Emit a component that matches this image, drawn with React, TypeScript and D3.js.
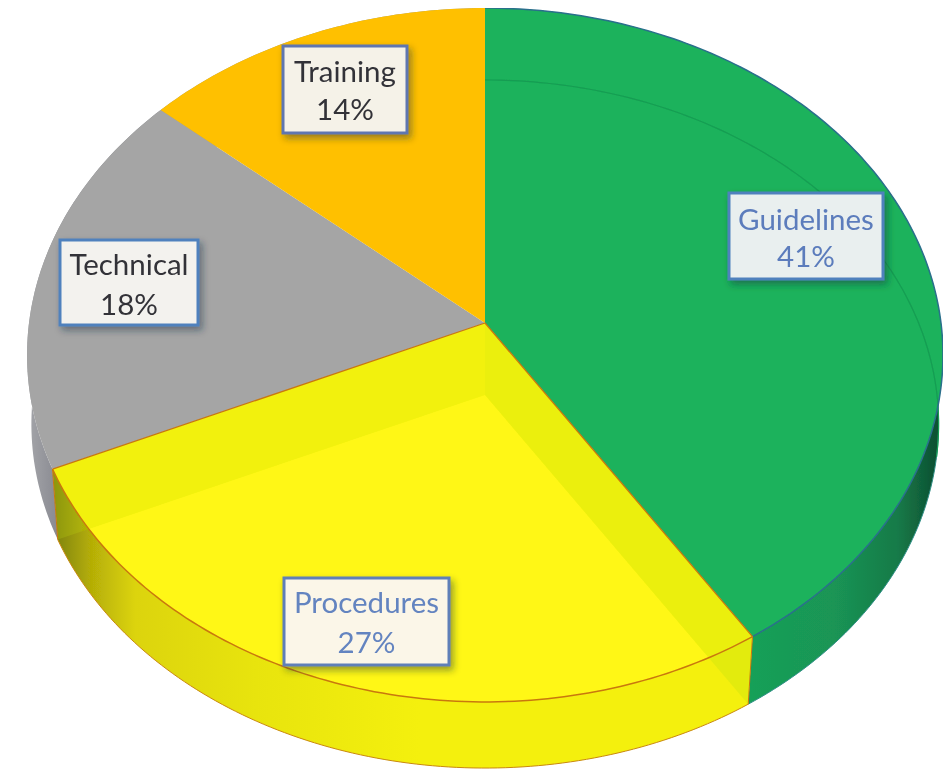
import React from "react";
import * as d3 from "d3";

const categories = ["Guidelines", "Procedures", "Technical", "Training"];
const shares = [40.9, 27.4, 18.1, 13.6];
const faceColors = ["#1bb25b", "#fff714", "#a5a5a5", "#ffc000"];

const W = 951;
const H = 770;
const topFace = { cx: 485, cy: 323, a: 456, b: 344, p: 0.0922 };
const baseFace = { cx: 485, cy: 395, a: 452, b: 341.6, p: 0.0843 };
type Face = typeof topFace;
type Pt = [number, number];

const project = (f: Face, ang: number): Pt => {
  const u = Math.sin(ang);
  const v = Math.cos(ang);
  const d = 1 + f.p * v;
  return [f.cx + (f.a * u) / d, f.cy - (f.b * v) / d];
};
const rim = (f: Face, a0: number, a1: number): Pt[] => {
  const n = Math.max(8, Math.ceil(Math.abs(a1 - a0) * 60));
  return d3.range(n + 1).map((i) => project(f, a0 + ((a1 - a0) * i) / n));
};
const line = d3.line<Pt>();
const closed = (pts: Pt[]) => line(pts) + "Z";

const arcs = d3
  .pie<number>()
  .sort(null)
  .value((d) => d)(shares);

const boxes = [
  { x: 729, y: 193, w: 154, h: 86, t1: 230, t2: 267, fill: "#e9efef", border: "#4f81bd", ink: "#5b7cbc" },
  { x: 284, y: 578, w: 165, h: 87, t1: 613, t2: 653, fill: "#fbf6e8", border: "#5f7fb8", ink: "#6484c0" },
  { x: 60, y: 240, w: 138, h: 85, t1: 275, t2: 315, fill: "#f3f2ee", border: "#4f81bd", ink: "#333338" },
  { x: 283, y: 46, w: 124, h: 87, t1: 82, t2: 120, fill: "#f5f2e8", border: "#5f76b0", ink: "#333338" },
];

const sideFill = ["url(#gGreen)", "url(#gYellow)", "url(#gGrey)", "#999"];
const edge = ["#2a6f8c", "#c9780f", "none", "none"];

export default function App() {
  const center: Pt = [topFace.cx, topFace.cy];
  const baseCenter: Pt = [baseFace.cx, baseFace.cy];
  const yellow = arcs[1];
  const yStart = project(topFace, yellow.startAngle);
  const yEnd = project(topFace, yellow.endAngle);
  const bStart = project(baseFace, yellow.startAngle);
  const bEnd = project(baseFace, yellow.endAngle);

  return (
    <svg
      width={W}
      height={H}
      viewBox={`0 0 ${W} ${H}`}
      style={{ position: "absolute", left: 0, top: 0, background: "#fff", display: "block" }}
    >
      <defs>
        <linearGradient id="gGreen" gradientUnits="userSpaceOnUse" x1="750" x2="935" y1="0" y2="0">
          <stop offset="0" stopColor="#18a058" />
          <stop offset="0.45" stopColor="#1a9555" />
          <stop offset="0.8" stopColor="#167a48" />
          <stop offset="1" stopColor="#0e5233" />
        </linearGradient>
        <linearGradient id="gYellow" gradientUnits="userSpaceOnUse" x1="55" x2="420" y1="0" y2="0">
          <stop offset="0" stopColor="#7f8410" />
          <stop offset="0.1" stopColor="#b5ae06" />
          <stop offset="0.22" stopColor="#dcd40a" />
          <stop offset="0.55" stopColor="#e8e40c" />
          <stop offset="1" stopColor="#f4f010" />
        </linearGradient>
        <linearGradient id="gGrey" gradientUnits="userSpaceOnUse" x1="28" x2="62" y1="0" y2="0">
          <stop offset="0" stopColor="#a4a5a9" />
          <stop offset="1" stopColor="#85868e" />
        </linearGradient>
        <filter id="boxShadow" x="-20%" y="-20%" width="145%" height="145%">
          <feDropShadow dx="3" dy="4" stdDeviation="3.5" floodColor="#1c2a40" floodOpacity="0.45" />
        </filter>
        <filter id="soft" x="0" y="0" width="100%" height="100%">
          <feGaussianBlur stdDeviation="0.5" />
        </filter>
      </defs>

      <g filter="url(#soft)">
        {/* outer walls */}
        {arcs.map((a, i) => {
          const top = rim(topFace, a.startAngle, a.endAngle);
          const base = rim(baseFace, a.startAngle, a.endAngle).reverse();
          return <path key={categories[i]} d={closed([...top, ...base])} fill={sideFill[i]} />;
        })}
        <path d={line(rim(baseFace, arcs[0].startAngle + 1.2, arcs[0].endAngle))!} fill="none" stroke="#2f8f86" strokeWidth={1} />
        <path d={line(rim(baseFace, yellow.startAngle, yellow.endAngle))!} fill="none" stroke="#c9880f" strokeWidth={1} />

        {/* top faces */}
        {arcs.map((a, i) => (
          <path
            key={categories[i]}
            d={closed([center, ...rim(topFace, a.startAngle, a.endAngle)])}
            fill={faceColors[i]}
          />
        ))}

        {/* the floor seen through the green face */}
        <path d={line(rim(baseFace, arcs[0].startAngle, arcs[0].startAngle + 1.75))!} fill="none" stroke="#179c52" strokeWidth={1.2} />

        {/* inner walls of the yellow slice, seen through the top and the rim */}
        <path d={closed([center, baseCenter, bStart, yStart])} fill="#c3e100" fillOpacity={0.33} />
        <path d={closed([center, baseCenter, bEnd, yEnd])} fill="#c3e100" fillOpacity={0.22} />

        {/* edges */}
        <path d={line(rim(topFace, arcs[0].startAngle, arcs[0].endAngle))!} fill="none" stroke={edge[0]} strokeWidth={1.5} />
        <path d={line(rim(topFace, yellow.startAngle, yellow.endAngle))!} fill="none" stroke={edge[1]} strokeWidth={1.5} />
        <path d={line([yStart, center, yEnd])!} fill="none" stroke={edge[1]} strokeWidth={1.3} strokeLinejoin="round" />
        <path d={line([yStart, bStart])!} fill="none" stroke={edge[1]} strokeWidth={1} />
        <path d={line([bEnd, yEnd])!} fill="none" stroke="#c9780f" strokeWidth={1} />

        {/* labels */}
        {boxes.map((b, i) => (
          <g key={categories[i]}>
            <rect
              x={b.x}
              y={b.y}
              width={b.w}
              height={b.h}
              fill={b.fill}
              stroke={b.border}
              strokeWidth={3}
              filter="url(#boxShadow)"
            />
            <text
              x={b.x + b.w / 2}
              y={b.t1}
              textAnchor="middle"
              fontFamily="Lato, 'Open Sans', sans-serif"
              fontSize={29.5}
              fill={b.ink}
            >
              {categories[i]}
            </text>
            <text
              x={b.x + b.w / 2}
              y={b.t2}
              textAnchor="middle"
              fontFamily="Lato, 'Open Sans', sans-serif"
              fontSize={29.5}
              fill={b.ink}
            >
              {Math.round(shares[i])}%
            </text>
          </g>
        ))}
      </g>
    </svg>
  );
}
